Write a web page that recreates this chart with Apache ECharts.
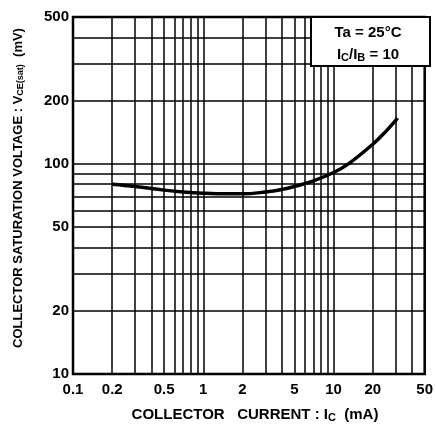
<!DOCTYPE html>
<html>
<head>
<meta charset="utf-8">
<script src="https://cdn.jsdelivr.net/npm/echarts@6/dist/echarts.min.js"></script>
<style>
  html, body { margin: 0; padding: 0; background: #fff; }
  #chart { width: 436px; height: 430px; }
</style>
</head>
<body>
<div id="chart"></div>
<script>
// Collector current Ic (mA) and saturation voltage VCE(sat) (mV), Ta = 25 °C, Ic/IB = 10
const currentMA = [0.2, 0.3, 0.5, 0.7, 1, 1.5, 2, 3, 4, 5, 7, 10, 13, 20, 25, 31];
const vceSatMV  = [80, 78, 75, 73.5, 72.5, 72, 72, 73.5, 75.5, 78, 83, 91, 100, 124, 142, 165];

// Log grid lines and labelled ticks
const xGridValues = [0.1, 0.2, 0.3, 0.4, 0.5, 0.6, 0.7, 0.8, 0.9, 1, 2, 3, 4, 5, 6, 7, 8, 9, 10, 20, 30, 40, 50];
const yGridValues = [10, 20, 30, 40, 50, 60, 70, 80, 90, 100, 200, 300, 400, 500];
const xTickLabels = [0.1, 0.2, 0.5, 1, 2, 5, 10, 20, 50];
const yTickLabels = [10, 20, 50, 100, 200, 500];

const FONT = 'Liberation Sans';
const fmt = v => String(+(+v).toPrecision(3));

const chart = echarts.init(document.getElementById('chart'), null, { renderer: 'canvas' });

chart.setOption({
  animation: false,
  backgroundColor: '#fff',
  grid: {
    left: 73, right: 6, top: 17, bottom: 56,
    show: true, borderColor: '#000', borderWidth: 2.5, backgroundColor: '#fff'
  },
  xAxis: {
    type: 'log', logBase: 10, min: 0.1, max: 50,
    axisLine: { show: false },
    axisTick: { show: false, customValues: xGridValues },
    splitLine: { show: true, lineStyle: { color: '#000', width: 1.5 } },
    axisLabel: {
      customValues: xTickLabels, formatter: fmt, margin: 8,
      color: '#000', fontFamily: FONT, fontWeight: 'bold', fontSize: 15
    }
  },
  yAxis: {
    type: 'log', logBase: 10, min: 10, max: 500,
    axisLine: { show: false },
    axisTick: { show: false, customValues: yGridValues },
    splitLine: { show: true, lineStyle: { color: '#000', width: 1.5 } },
    axisLabel: {
      customValues: yTickLabels, formatter: fmt, margin: 4,
      color: '#000', fontFamily: FONT, fontWeight: 'bold', fontSize: 15
    }
  },
  series: [{
    type: 'line',
    data: currentMA.map((x, i) => [x, vceSatMV[i]]),
    smooth: 0.4,
    showSymbol: false,
    lineStyle: { color: '#000', width: 3.5 },
    z: 5
  }],
  graphic: [
    // Conditions box in the upper-right corner
    { type: 'rect', z: 100, shape: { x: 311, y: 17, width: 119, height: 49 },
      style: { fill: '#fff', stroke: '#000', lineWidth: 2 } },
    { type: 'text', z: 101, x: 368, y: 33,
      style: { text: 'Ta = 25°C', fill: '#000', font: 'bold 15px ' + FONT, align: 'center', verticalAlign: 'middle' } },
    { type: 'text', z: 101, x: 368, y: 55,
      style: {
        text: 'I{s|C}/I{s|B} = 10', align: 'center', verticalAlign: 'middle',
        fill: '#000', font: 'bold 15px ' + FONT,
        rich: { s: { fontSize: 11, fontWeight: 'bold', fontFamily: FONT, fill: '#000', padding: [6, 0, 0, 0] } }
      } },
    // Axis titles
    { type: 'text', z: 101, x: 255, y: 415,
      style: {
        text: 'COLLECTOR   CURRENT : I{s|C}  (mA)', align: 'center', verticalAlign: 'middle',
        fill: '#000', font: 'bold 15px ' + FONT,
        rich: { s: { fontSize: 11, fontWeight: 'bold', fontFamily: FONT, fill: '#000', padding: [5, 0, 0, 0] } }
      } },
    { type: 'text', z: 101, x: 18, y: 188, rotation: Math.PI / 2,
      style: {
        text: 'COLLECTOR SATURATION VOLTAGE : V{s|CE(sat)}  (mV)', align: 'center', verticalAlign: 'middle',
        fill: '#000', font: 'bold 13px ' + FONT,
        rich: { s: { fontSize: 9, fontWeight: 'bold', fontFamily: FONT, fill: '#000', padding: [5, 0, 0, 0] } }
      } }
  ]
});
</script>
</body>
</html>
